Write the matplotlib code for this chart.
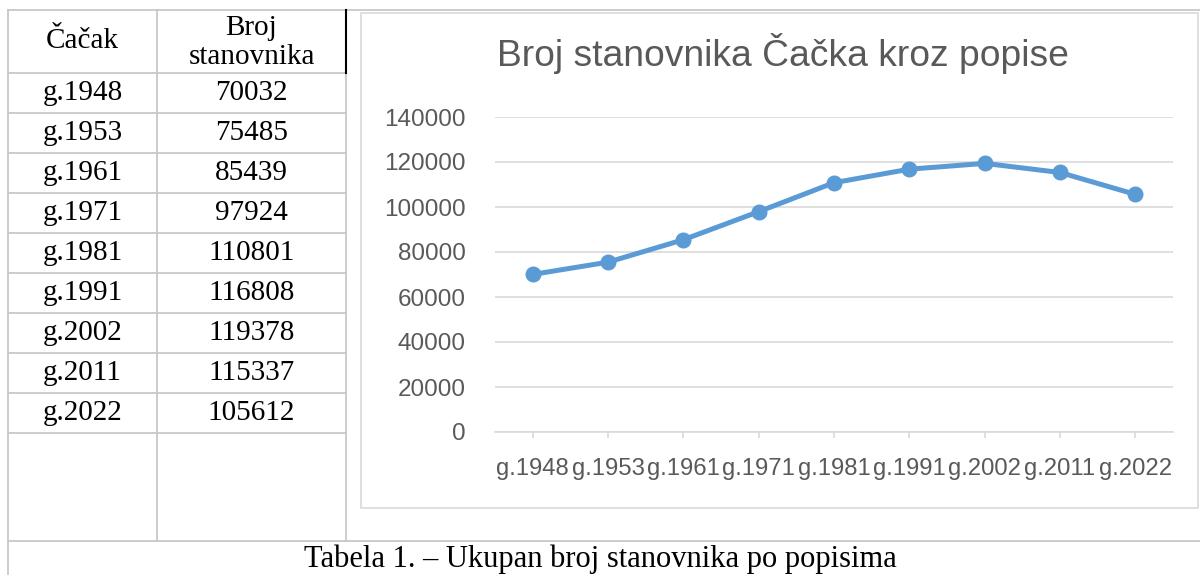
import matplotlib
matplotlib.use("Agg")
import matplotlib.pyplot as plt
from matplotlib.lines import Line2D
from matplotlib.patches import Rectangle

# ==========================================
# Data
# ==========================================
years = ["g.1948", "g.1953", "g.1961", "g.1971", "g.1981",
         "g.1991", "g.2002", "g.2011", "g.2022"]
population = [70032, 75485, 85439, 97924, 110801,
              116808, 119378, 115337, 105612]
y_ticks = [0, 20000, 40000, 60000, 80000, 100000, 120000, 140000]

chart_title = "Broj stanovnika Čačka kroz popise"
caption = "Tabela 1. – Ukupan broj stanovnika po popisima"
col_head_1 = "Čačak"
col_head_2 = "Broj\nstanovnika"

W, H = 1200, 575
SERIF = "Liberation Serif"
SANS = "Liberation Sans"
GRID = "#d9d9d9"
TABLE_LINE = "#c8c8c8"
TEXT_GRAY = "#595959"
BLUE = "#5B9BD5"

fig = plt.figure(figsize=(W / 100, H / 100), dpi=100)
fig.patch.set_facecolor("white")


def fx(x):
    return x / W


def fy(y):
    return 1 - y / H


def hline(x0, x1, y, color=TABLE_LINE, lw=1.3):
    fig.add_artist(Line2D([fx(x0), fx(x1)], [fy(y), fy(y)], color=color, lw=lw))


def vline(x, y0, y1, color=TABLE_LINE, lw=1.3):
    fig.add_artist(Line2D([fx(x), fx(x)], [fy(y0), fy(y1)], color=color, lw=lw))


# ==========================================
# Table grid
# ==========================================
x_left, x_mid, x_right = 8, 157, 346
y_top, y_head = 10, 73
row_h = 40
y_caption = 541

hline(x_left, W, y_top)
hline(x_left, x_right, y_head)
for i in range(len(years)):
    hline(x_left, x_right, y_head + row_h * (i + 1))
hline(x_left, W, y_caption)
vline(x_left, y_top, H)
vline(x_mid, y_top, y_caption)
vline(x_right, y_head, y_caption)
vline(x_right, y_top, y_head, color="black", lw=1.5)

# header
fig.text(fx((x_left + x_mid) / 2), fy(y_top + (y_head - y_top) / 2), col_head_1,
         ha="center", va="center", family=SERIF, fontsize=21)
fig.text(fx((x_mid + x_right) / 2), fy(y_top + (y_head - y_top) / 2 + 1), col_head_2,
         ha="center", va="center", family=SERIF, fontsize=21, linespacing=1.15)

# rows
for i, (yr, val) in enumerate(zip(years, population)):
    yc = y_head + row_h * i + row_h / 2
    fig.text(fx((x_left + x_mid) / 2), fy(yc), yr,
             ha="center", va="center", family=SERIF, fontsize=21)
    fig.text(fx((x_mid + x_right) / 2), fy(yc), str(val),
             ha="center", va="center", family=SERIF, fontsize=21)

# caption (sits at the very bottom edge, as in the source page)
fig.text(fx(600), fy(567), caption, ha="center", va="baseline",
         family=SERIF, fontsize=22)

# ==========================================
# Chart
# ==========================================
fig.add_artist(Rectangle((fx(361), fy(508)), fx(1198 - 361), (508 - 13) / H,
                         fill=False, edgecolor=GRID, lw=1.2))

fig.text(fx(783), fy(53), chart_title, ha="center", va="center",
         family=SANS, fontsize=26.8, color=TEXT_GRAY)

ax = fig.add_axes([fx(495), fy(432), fx(1173 - 495), (432 - 117) / H])
ax.set_facecolor("none")
xpos = list(range(len(years)))
ax.plot(xpos, population, color=BLUE, lw=3.6, marker="o", markersize=10.5,
        solid_capstyle="round", zorder=3)

ax.set_xlim(-0.5, len(years) - 0.5)
ax.set_ylim(0, 140000)
ax.set_yticks(y_ticks)
ax.set_yticklabels([str(v) for v in y_ticks])
ax.set_xticks(xpos)
ax.set_xticklabels(years)
ax.grid(axis="y", color=GRID, lw=1.2)
ax.set_axisbelow(True)
for side in ["top", "right", "left"]:
    ax.spines[side].set_visible(False)
ax.spines["bottom"].set_color(GRID)
ax.spines["bottom"].set_linewidth(1.2)
ax.tick_params(axis="y", length=0, pad=21, labelsize=17.5, labelcolor=TEXT_GRAY)
ax.tick_params(axis="x", length=4, width=1.2, color=GRID, pad=15,
               labelsize=17.2, labelcolor=TEXT_GRAY)
for lab in ax.get_xticklabels() + ax.get_yticklabels():
    lab.set_family(SANS)

fig.savefig("out.png", dpi=100, facecolor="white")
